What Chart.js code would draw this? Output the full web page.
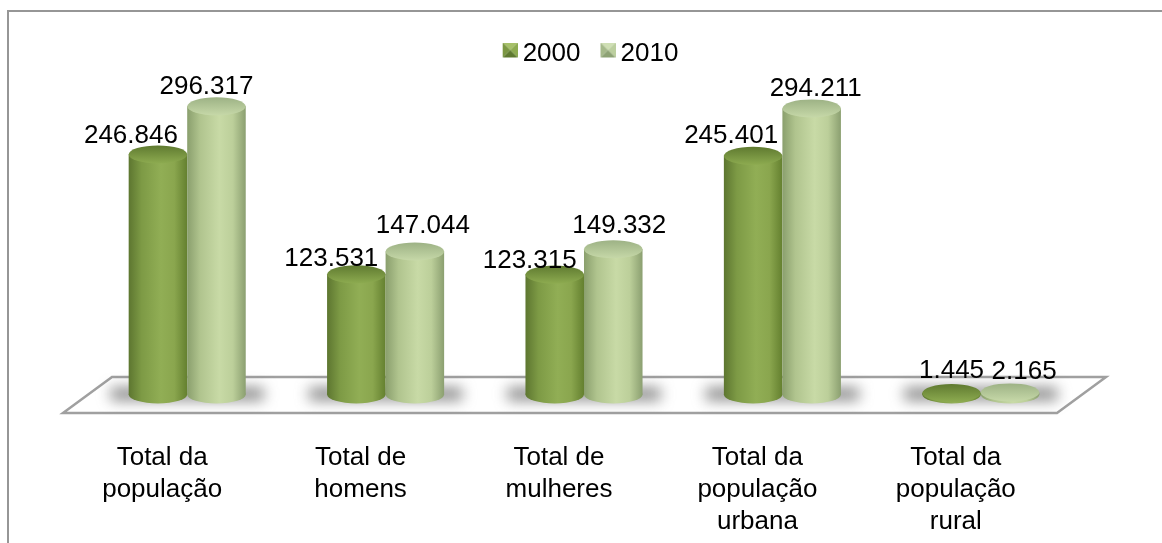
<!DOCTYPE html>
<html lang="pt">
<head>
<meta charset="utf-8">
<style>html,body{margin:0;padding:0;background:#fff}canvas{display:block}</style>
<script src="https://cdn.jsdelivr.net/npm/chart.js@4/dist/chart.umd.min.js"></script>
</head>
<body>
<canvas id="c" width="1162" height="543"></canvas>
<script>
const categories = [
  ['Total da', 'população'],
  ['Total de', 'homens'],
  ['Total de', 'mulheres'],
  ['Total da', 'população', 'urbana'],
  ['Total da', 'população', 'rural']
];
const seriesNames = ['2000', '2010'];
const values2000 = [246846, 123531, 123315, 245401, 1445];
const values2010 = [296317, 147044, 149332, 294211, 2165];
const labelNudge2000 = [[-27, -19], [-25, -16], [-25, -14], [-22, -20], [0, -22]];
const labelNudge2010 = [[-10, -20], [8, -26], [6, -23], [4, -20], [14, -21]];

const FONT = '"Liberation Sans", Arial, sans-serif';
const CAT_PCT = 0.59;
const palettes = [
  { side: ['#5d7630', '#7d9a45', '#91ae55', '#8aa64e', '#64802f'], cap: ['#5f7a30', '#8dab50'], sw: ['#a6c069', '#7b9742', '#5f7a30', '#8dab50'] },
  { side: ['#8a9f6d', '#b0c48e', '#c8daa6', '#bccf9a', '#8b9f70'], cap: ['#9db285', '#c6d8a8'], sw: ['#cfdfb4', '#a5b98a', '#8da274', '#bccf9f'] }
];

function swatch(p) {
  const s = 15, c = document.createElement('canvas');
  c.width = s + 3; c.height = s + 8;
  const g = c.getContext('2d');
  g.translate(3, 0);
  const tri = (col, pts) => { g.fillStyle = col; g.beginPath(); pts.forEach((q, i) => i ? g.lineTo(q[0], q[1]) : g.moveTo(q[0], q[1])); g.closePath(); g.fill(); };
  const m = [s / 2, s / 2];
  tri(p.sw[0], [[0, 0], [s, 0], m]);
  tri(p.sw[1], [[0, 0], [0, s], m]);
  tri(p.sw[3], [[s, 0], [s, s], m]);
  tri(p.sw[2], [[0, s], [s, s], m]);
  return c;
}

function sideGradient(ctx, i) {
  const chart = ctx.chart, x = chart.scales.x;
  const band = x.width / categories.length, w = band * CAT_PCT / 2;
  const cx = x.getPixelForValue(ctx.dataIndex);
  const l = i === 0 ? cx - w : cx;
  const g = chart.ctx.createLinearGradient(l, 0, l + w, 0);
  const st = palettes[i].side;
  [0, 0.22, 0.55, 0.78, 1].forEach((o, k) => g.addColorStop(o, st[k]));
  return g;
}

const formatValue = v => String(v).replace(/\B(?=(\d{3})+$)/g, '.');

const stagePlugin = {
  id: 'stage',
  beforeDraw(chart) {
    const c = chart.ctx, H = chart.height, W = chart.width;
    c.save();
    c.strokeStyle = '#969696'; c.lineWidth = 2;
    c.beginPath(); c.moveTo(8, H); c.lineTo(8, 11); c.lineTo(W, 11); c.stroke();
    c.restore();
  },
  beforeDatasetsDraw(chart) {
    const c = chart.ctx, a = chart.chartArea, b = a.bottom;
    c.save();
    c.strokeStyle = '#a0a0a0'; c.fillStyle = '#fff'; c.lineWidth = 2.5; c.lineJoin = 'miter';
    c.beginPath();
    c.moveTo(a.left - 25, b + 18.5);
    c.lineTo(a.left + 24, b - 17.5);
    c.lineTo(a.right + 26, b - 17.5);
    c.lineTo(a.right - 23, b + 18.5);
    c.closePath(); c.fill(); c.stroke();
    c.restore();
    const m0 = chart.getDatasetMeta(0).data, m1 = chart.getDatasetMeta(1).data;
    m0.forEach((e0, k) => {
      const e1 = m1[k];
      const l = e0.x - e0.width / 2 - 18, r = e1.x + e1.width / 2 + 18;
      c.save();
      c.filter = 'blur(7px)';
      c.fillStyle = 'rgba(90,90,90,0.7)';
      c.fillRect(l, b - 7, r - l, 13);
      c.restore();
    });
  },
  beforeDatasetDraw() { return false; },
  afterDatasetsDraw(chart) {
    const c = chart.ctx, base = chart.chartArea.bottom;
    [0, 1].forEach(i => {
      const meta = chart.getDatasetMeta(i);
      meta.data.forEach(el => {
        const rx = el.width / 2, ry = 9;
        c.save();
        c.fillStyle = el.options.backgroundColor;
        c.beginPath(); c.ellipse(el.x, base, rx, ry, 0, 0, Math.PI * 2); c.fill();
        c.restore();
        el.draw(c);
        const cap = c.createLinearGradient(0, el.y - ry, 0, el.y + ry);
        cap.addColorStop(0, palettes[i].cap[0]);
        cap.addColorStop(1, palettes[i].cap[1]);
        c.save();
        c.fillStyle = cap;
        c.beginPath(); c.ellipse(el.x, el.y, rx, ry, 0, 0, Math.PI * 2); c.fill();
        c.restore();
      });
    });
    [0, 1].forEach(i => {
      const meta = chart.getDatasetMeta(i);
      const nudges = i === 0 ? labelNudge2000 : labelNudge2010;
      const data = chart.data.datasets[i].data;
      c.save();
      c.fillStyle = '#000'; c.font = '26px ' + FONT; c.textAlign = 'center'; c.textBaseline = 'middle';
      meta.data.forEach((el, k) => {
        c.fillText(formatValue(data[k]), el.x + nudges[k][0], el.y + nudges[k][1]);
      });
      c.restore();
    });
  }
};

new Chart(document.getElementById('c'), {
  type: 'bar',
  data: {
    labels: categories,
    datasets: [
      { label: seriesNames[0], data: values2000, backgroundColor: ctx => sideGradient(ctx, 0), borderWidth: 0, categoryPercentage: CAT_PCT, barPercentage: 1 },
      { label: seriesNames[1], data: values2010, backgroundColor: ctx => sideGradient(ctx, 1), borderWidth: 0, categoryPercentage: CAT_PCT, barPercentage: 1 }
    ]
  },
  options: {
    responsive: false,
    animation: false,
    devicePixelRatio: 1,
    layout: { padding: { left: 88, right: 64, top: 16, bottom: 8 } },
    plugins: {
      tooltip: { enabled: false },
      legend: {
        position: 'top',
        labels: {
          color: '#000',
          font: { family: FONT, size: 26 },
          usePointStyle: true,
          boxWidth: 2,
          boxHeight: 14,
          pointStyleWidth: 2,
          padding: 25,
          generateLabels: chart => chart.data.datasets.map((d, i) => ({
            text: d.label, pointStyle: swatch(palettes[i]), datasetIndex: i, fontColor: '#000', lineWidth: 0
          }))
        }
      }
    },
    scales: {
      x: {
        afterFit(s) { s.height = 140.5; },
        grid: { display: false, drawTicks: false },
        border: { display: false },
        ticks: {
          color: '#000', padding: 47, labelOffset: -25, maxRotation: 0, autoSkip: false,
          font: { family: FONT, size: 26, lineHeight: 1.23 }
        }
      },
      y: {
        position: 'right',
        min: 0, max: 326500,
        afterFit(s) { s.width = 18; },
        grid: { display: false, drawTicks: false },
        border: { display: false },
        ticks: { display: false }
      }
    }
  },
  plugins: [stagePlugin]
});
</script>
</body>
</html>
